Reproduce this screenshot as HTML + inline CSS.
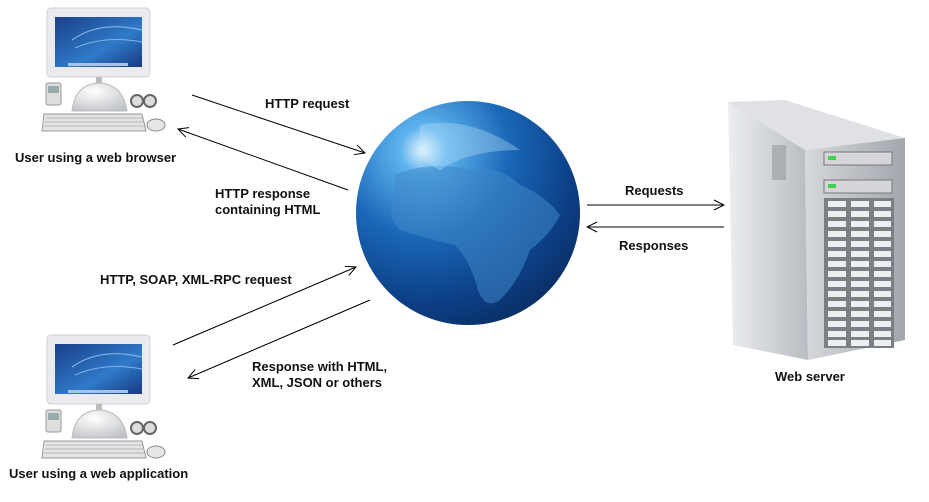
<!DOCTYPE html>
<html><head><meta charset="utf-8"><style>
html,body{margin:0;padding:0;background:#fff;}
svg{display:block;}
text{font-family:"Liberation Sans",Arial,sans-serif;font-size:13px;font-weight:bold;fill:#111;}
</style></head><body>
<svg width="929" height="502" viewBox="0 0 929 502" xmlns="http://www.w3.org/2000/svg">
<defs>
<radialGradient id="globe" cx="0.3" cy="0.22" r="0.85">
<stop offset="0" stop-color="#e8f6ff"/>
<stop offset="0.12" stop-color="#5fb4ee"/>
<stop offset="0.45" stop-color="#1a68b8"/>
<stop offset="0.8" stop-color="#0c3f86"/>
<stop offset="1" stop-color="#0a2f66"/>
</radialGradient>
<linearGradient id="scr" x1="0" y1="0" x2="1" y2="1">
<stop offset="0" stop-color="#1b3f8a"/><stop offset="0.6" stop-color="#2f7ac8"/><stop offset="1" stop-color="#173a80"/>
</linearGradient>
<linearGradient id="side" x1="0" y1="0" x2="1" y2="0">
<stop offset="0" stop-color="#eceef0"/><stop offset="1" stop-color="#b9bcc2"/>
</linearGradient>
<linearGradient id="front" x1="0" y1="0" x2="1" y2="0">
<stop offset="0" stop-color="#d6d8dc"/><stop offset="1" stop-color="#a3a6ad"/>
</linearGradient>
<radialGradient id="dome" cx="0.4" cy="0.3" r="0.8"><stop offset="0" stop-color="#fff"/><stop offset="1" stop-color="#bfc2c6"/></radialGradient>
<g id="pc">
<rect x="47" y="8" width="103" height="69" rx="4" fill="#e9ebee" stroke="#cfd2d6"/>
<rect x="55" y="17" width="87" height="50" fill="url(#scr)"/>
<path d="M72 40 Q100 20 142 30" stroke="#7fb3e8" fill="none" stroke-width="1.2"/>
<path d="M75 48 Q105 35 142 42" stroke="#7fb3e8" fill="none" stroke-width="1"/>
<rect x="68" y="63" width="60" height="3" fill="#a9c3e6"/>
<rect x="96" y="77" width="6" height="8" fill="#bbb"/>
<path d="M72 111 Q75 84 99 83 Q123 84 127 111 Z" fill="url(#dome)" stroke="#bbb"/>
<rect x="46" y="83" width="15" height="22" rx="2" fill="#ddd" stroke="#999"/>
<rect x="48" y="86" width="11" height="7" fill="#9aa"/>
<circle cx="137" cy="101" r="6" fill="#ddd" stroke="#666" stroke-width="2"/>
<circle cx="150" cy="101" r="6" fill="#ddd" stroke="#666" stroke-width="2"/>
<path d="M44 114 L142 114 L146 131 L42 131 Z" fill="#e2e4e6" stroke="#999"/>
<path d="M46 118 H143 M45 122 H144 M44 126 H145" stroke="#aaa" stroke-width="0.8"/>
<ellipse cx="156" cy="125" rx="9" ry="6" fill="#e6e6e6" stroke="#888"/>
</g>
<marker id="ah" markerWidth="12" markerHeight="12" refX="11" refY="6" orient="auto" markerUnits="userSpaceOnUse">
<path d="M1 1 L11 6 L1 11" fill="none" stroke="#000" stroke-width="1"/>
</marker>
<g id="row">
<rect x="828" y="0" width="18" height="6" fill="#eceef0"/>
<rect x="851" y="0" width="18" height="6" fill="#eceef0"/>
<rect x="874" y="0" width="17" height="6" fill="#eceef0"/>
</g>
</defs>

<use href="#pc"/>
<use href="#pc" transform="translate(0,327)"/>

<circle cx="468" cy="213" r="112" fill="url(#globe)"/>
<path d="M395 175 Q430 160 470 170 Q500 165 520 185 Q545 195 560 215 Q550 235 530 250 Q520 280 500 300 Q485 310 478 290 Q470 260 455 245 Q430 240 400 230 Q385 215 395 195 Z" fill="#3f86c8" opacity="0.55"/>
<path d="M420 125 Q470 115 520 150 Q470 150 440 170 Q415 160 420 125 Z" fill="#bfe4fb" opacity="0.35"/>

<!-- server -->
<polygon points="728,102 785,100 905,138 805,150" fill="#dfe1e4"/>
<polygon points="728,102 805,150 808,360 733,345" fill="url(#side)"/>
<polygon points="805,150 905,138 905,340 808,360" fill="url(#front)"/>
<rect x="772" y="145" width="14" height="35" fill="#8d9096" opacity="0.5"/>
<rect x="824" y="152" width="68" height="13" fill="#d4d6da" stroke="#777"/>
<rect x="824" y="180" width="68" height="13" fill="#d4d6da" stroke="#777"/>
<rect x="828" y="156" width="8" height="4" fill="#3fd24a"/>
<rect x="828" y="184" width="8" height="4" fill="#3fd24a"/>
<rect x="824" y="198" width="70" height="150" fill="#7a7e85"/>
<use href="#row" y="201"/><use href="#row" y="211"/><use href="#row" y="221"/>
<use href="#row" y="231"/><use href="#row" y="241"/><use href="#row" y="251"/>
<use href="#row" y="261"/><use href="#row" y="271"/><use href="#row" y="281"/>
<use href="#row" y="291"/><use href="#row" y="301"/><use href="#row" y="311"/>
<use href="#row" y="321"/><use href="#row" y="331"/><use href="#row" y="340"/>

<!-- arrows -->
<g stroke="#000" stroke-width="1" fill="none">
<line x1="192" y1="95" x2="365" y2="153" marker-end="url(#ah)"/>
<line x1="348" y1="190" x2="178" y2="129" marker-end="url(#ah)"/>
<line x1="173" y1="345" x2="356" y2="267" marker-end="url(#ah)"/>
<line x1="370" y1="300" x2="188" y2="378" marker-end="url(#ah)"/>
<line x1="587" y1="205" x2="724" y2="205" marker-end="url(#ah)"/>
<line x1="724" y1="227" x2="587" y2="227" marker-end="url(#ah)"/>
</g>

<text x="265" y="108">HTTP request</text>
<text x="15" y="162">User using a web browser</text>
<text x="215" y="198">HTTP response</text>
<text x="215" y="214">containing HTML</text>
<text x="100" y="284">HTTP, SOAP, XML-RPC request</text>
<text x="252" y="371">Response with HTML,</text>
<text x="252" y="387">XML, JSON or others</text>
<text x="625" y="195">Requests</text>
<text x="619" y="250">Responses</text>
<text x="775" y="381">Web server</text>
<text x="9" y="478">User using a web application</text>
</svg>
</body></html>
